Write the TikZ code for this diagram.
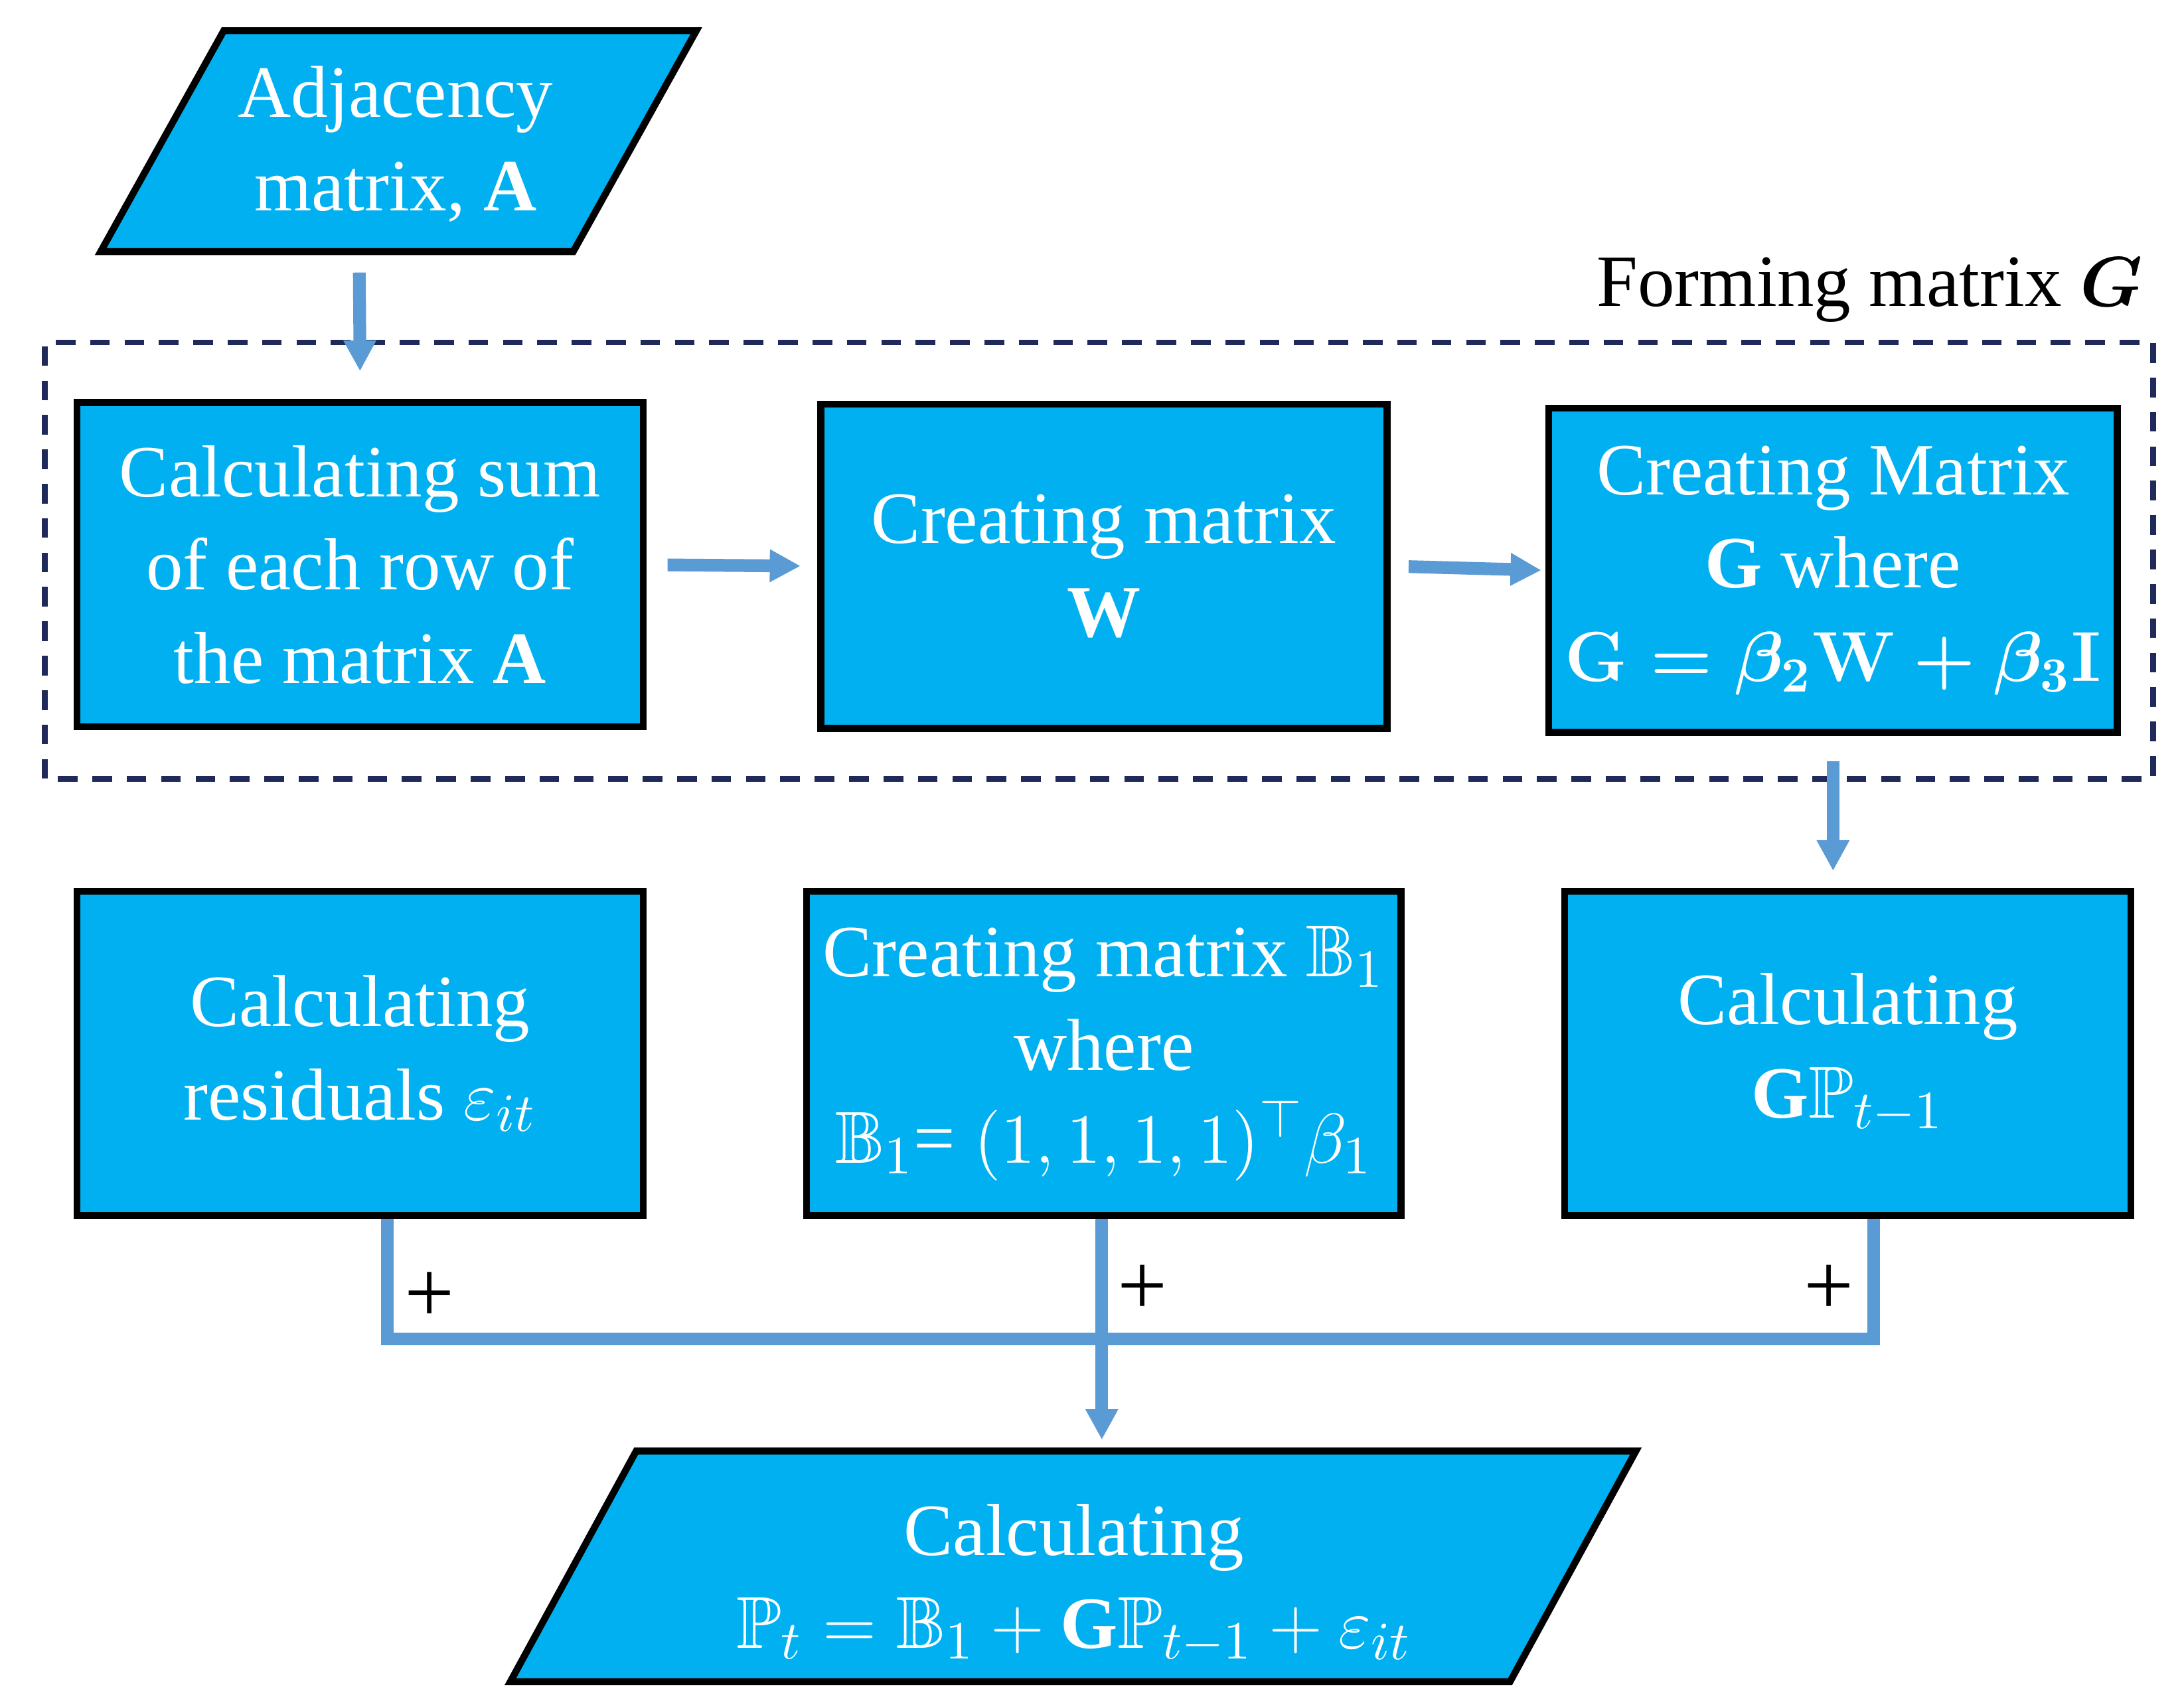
\documentclass[tikz,border=0pt]{standalone}
\usepackage{amsmath,amssymb}
\usepackage{fontspec}
\setmainfont{Liberation Serif}
\usetikzlibrary{arrows.meta}
\definecolor{boxcyan}{HTML}{00B0F0}
\definecolor{linkblue}{HTML}{5B9BD5}
\definecolor{navy}{HTML}{1F2A5A}
\tikzset{
  procbox/.style={draw=black,line width=1.4pt,fill=boxcyan,text=white,align=center,
    minimum width=4.05cm,minimum height=2.32cm,font=\fontsize{15}{19}\selectfont},
  link/.style={draw=linkblue,line width=2.6pt},
  arr/.style={link,-{Triangle[length=0.22cm,width=0.22cm]}},
}
\begin{document}
\begin{tikzpicture}
    \useasboundingbox (0,0) rectangle (15.62,12.15);
    % input parallelogram
    \draw[line width=1.4pt,fill=boxcyan] (0.72,10.35) -- (4.10,10.35) -- (4.98,11.93) -- (1.60,11.93) -- cycle;
    \node[text=white,align=center,font=\fontsize{15}{19}\selectfont] (adj) at (2.83,11.12) {Adjacency\\matrix, $\mathbf{A}$};
    % group frame
    \draw[navy,line width=1.2pt,dash pattern=on 4pt off 3pt] (0.32,6.58) rectangle (15.40,9.70);
    \node[anchor=south east,font=\fontsize{15}{19}\selectfont] (grp) at (15.45,9.72) {Forming matrix $\boldsymbol{G}$};
    % steps
    \node[procbox] (sum) at (2.575,8.11) {Calculating sum\\of each row of\\the matrix $\mathbf{A}$};
    \node[procbox] (w) at (7.895,8.10) {Creating matrix\\$\mathbf{W}$};
    \node[procbox] (g) at (13.11,8.07) {Creating Matrix\\$\mathbf{G}$ where\\{\boldmath\Large$\mathbf{G}=\beta_2\mathbf{W}+\beta_3\mathbf{I}$}};
    \node[procbox] (res) at (2.575,4.615) {Calculating\\residuals $\varepsilon_{it}$};
    \node[procbox] (b1) at (7.895,4.615) {Creating matrix $\mathbb{B}_1$\\where\\$\mathbb{B}_1$= $(1,1,1,1)^{\top}\beta_1$};
    \node[procbox] (gp) at (13.215,4.615) {Calculating\\$\mathbf{G}\mathbb{P}_{t-1}$};
    % output parallelogram
    \draw[line width=1.4pt,fill=boxcyan] (3.65,0.12) -- (10.80,0.12) -- (11.70,1.77) -- (4.55,1.77) -- cycle;
    \node[text=white,align=center,font=\fontsize{15}{19}\selectfont] (out) at (7.68,0.82)
      {Calculating\\$\mathbb{P}_t=\mathbb{B}_1+\mathbf{G}\mathbb{P}_{t-1}+\varepsilon_{it}$};
    \coordinate (outtop) at (7.88,1.85);
    \coordinate (adjbot) at (2.57,10.20);
    \coordinate (join) at (7.88,2.57);
    % connectors
    \draw[arr] (adjbot) -- ([yshift=0.2cm]sum.north);
    \draw[arr,shorten <=0.15cm,shorten >=0.12cm] (sum.east) -- (w.west);
    \draw[arr,shorten <=0.13cm,shorten >=0.03cm] (w.east) -- (g.west);
    \draw[arr,shorten <=0.18cm,shorten >=0.12cm] (g.south) -- (g.south |- gp.north);
    \draw[link] ([xshift=0.195cm]res.south) |- (join) -| ([xshift=0.185cm]gp.south);
    \draw[arr] ([xshift=-0.015cm]b1.south) -- (outtop);
    \node[font=\fontsize{18}{20}\selectfont] (p1) at (3.07,2.87) {+};
    \node[font=\fontsize{18}{20}\selectfont] (p2) at (8.17,2.92) {+};
    \node[font=\fontsize{18}{20}\selectfont] (p3) at (13.08,2.92) {+};
\end{tikzpicture}
\end{document}
